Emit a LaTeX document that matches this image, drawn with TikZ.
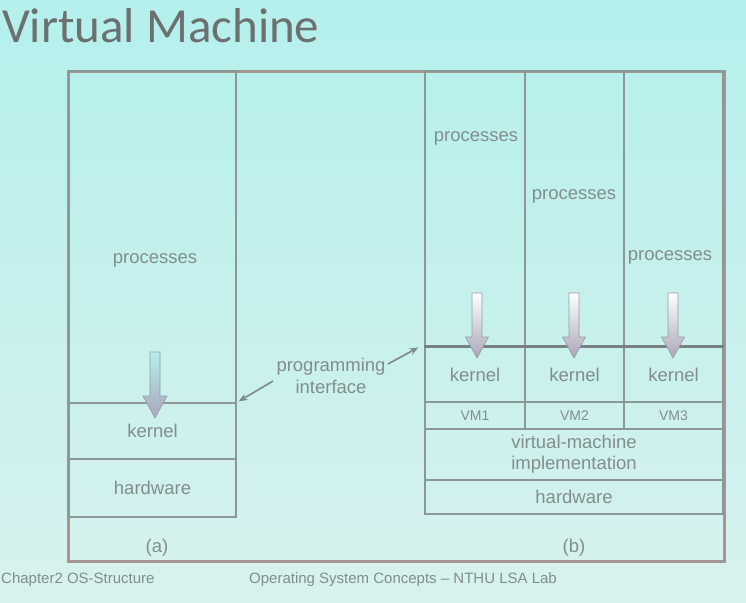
\documentclass[tikz,border=0pt]{standalone}
\usepackage{fontspec}
\setmainfont{Liberation Sans}
\newfontfamily\titlefont{Carlito}
\usetikzlibrary{arrows.meta}

\definecolor{bgtop}{RGB}{180,240,236}
\definecolor{bgbot}{RGB}{216,241,238}
\definecolor{linegray}{RGB}{140,152,152}
\definecolor{framec}{RGB}{164,150,146}
\definecolor{txt}{RGB}{130,142,142}
\definecolor{titlec}{RGB}{108,112,112}
\definecolor{arrowlo}{RGB}{170,166,186}
\definecolor{arrowline}{RGB}{150,156,164}

% downward system-call arrow: x, shaft top, head start, tip, head half-width, top colour
\newcommand{\fatarrow}[6]{%
  \path[shade, top color=#6, bottom color=arrowlo, draw=arrowline, line width=0.6pt]
    (#1-5,#2) -- (#1+5,#2) -- (#1+5,#3) -- (#1+#5,#3) -- (#1,#4)
    -- (#1-#5,#3) -- (#1-5,#3) -- cycle;}

\tikzset{
  cell/.style={draw=linegray, line width=1.2pt, inner sep=0pt, text=txt,
    font=\fontsize{18.5}{21}\selectfont},
  vmcell/.style={cell, font=\fontsize{14}{16}\selectfont},
  lbl/.style={inner sep=0pt, text=txt, font=\fontsize{18.5}{21}\selectfont},
  foot/.style={inner sep=0pt, text=txt, font=\fontsize{15}{17}\selectfont},
  pointer/.style={draw=linegray!90!black, line width=1.6pt,
    -{Stealth[length=9pt,width=7pt]}},
}

\begin{document}
\begin{tikzpicture}[x=1pt,y=-1pt]
  \useasboundingbox (0,0) rectangle (746,602);
  \clip (0,0) rectangle (746,602);
  \shade[top color=bgtop, bottom color=bgbot] (0,0) rectangle (746,602);

  % slide title
  \node[anchor=base west, inner sep=0pt, text=titlec,
        font=\titlefont\fontsize{49}{55}\selectfont] (title) at (2,42) {Virtual Machine};

  % outer frame of the figure
  \node[draw=framec, line width=3pt, minimum width=656pt, minimum height=490pt,
        inner sep=0pt] (frame) at (396,316) {};

  % (a) non-virtual machine
  \node[cell, minimum width=167pt, minimum height=332pt] (pa) at (152.5,237) {};
  \node[cell, minimum width=167pt, minimum height=56pt] (ka) at (152.5,431) {kernel};
  \node[cell, minimum width=167pt, minimum height=58pt] (ha) at (152.5,488) {hardware};
  \node[lbl] (pta) at (155,260) {processes};
  \node[lbl] (capa) at (157,548) {(a)};

  % (b) virtual machines
  \node[cell, minimum width=100pt, minimum height=276pt] (pb1) at (475,209) {};
  \node[cell, minimum width=99pt, minimum height=276pt] (pb2) at (574.5,209) {};
  \node[cell, minimum width=99pt, minimum height=276pt] (pb3) at (673.5,209) {};
  \node[cell, minimum width=100pt, minimum height=55pt] (kb1) at (475,374.5) {kernel};
  \node[cell, minimum width=99pt, minimum height=55pt] (kb2) at (574.5,374.5) {kernel};
  \node[cell, minimum width=99pt, minimum height=55pt] (kb3) at (673.5,374.5) {kernel};
  \node[vmcell, minimum width=100pt, minimum height=27pt] (vm1) at (475,415.5) {VM1};
  \node[vmcell, minimum width=99pt, minimum height=27pt] (vm2) at (574.5,415.5) {VM2};
  \node[vmcell, minimum width=99pt, minimum height=27pt] (vm3) at (673.5,415.5) {VM3};
  \node[cell, align=center, minimum width=298pt, minimum height=51pt] (impl) at (574,454.5)
       {virtual-machine\\implementation};
  \node[cell, minimum width=298pt, minimum height=34pt] (hwb) at (574,497) {hardware};
  \draw[draw=linegray!85!black, line width=2.6pt] (kb1.north west) -- (kb3.north east);
  \node[lbl] (ptb1) at (476,138) {processes};
  \node[lbl] (ptb2) at (574,196) {processes};
  \node[lbl] (ptb3) at (670,257) {processes};
  \node[lbl] (capb) at (574,548) {(b)};

  % calls from the processes into the kernels
  \fatarrow{155}{352}{396}{418}{12}{bgtop}
  \fatarrow{477}{293}{337}{358}{11.5}{white}
  \fatarrow{574}{293}{337}{358}{11.5}{white}
  \fatarrow{673}{293}{337}{358}{11.5}{white}

  % programming interface label and pointers
  \node[lbl, align=center, font=\fontsize{18.5}{22}\selectfont] (pi) at (331,376)
       {programming\\interface};
  \coordinate (pil) at (273,381);
  \coordinate (pir) at (388,364);
  \draw[pointer] (pil) -- ([shift={(2,-1)}]ka.north east);
  \draw[pointer] (pir) -- ([shift={(-6,1)}]kb1.north west);

  % slide footer
  \node[foot, anchor=base west] (chap) at (1,583) {Chapter2 OS-Structure};
  \node[foot, anchor=base] (course) at (403,583) {Operating System Concepts -- NTHU LSA Lab};
\end{tikzpicture}
\end{document}
